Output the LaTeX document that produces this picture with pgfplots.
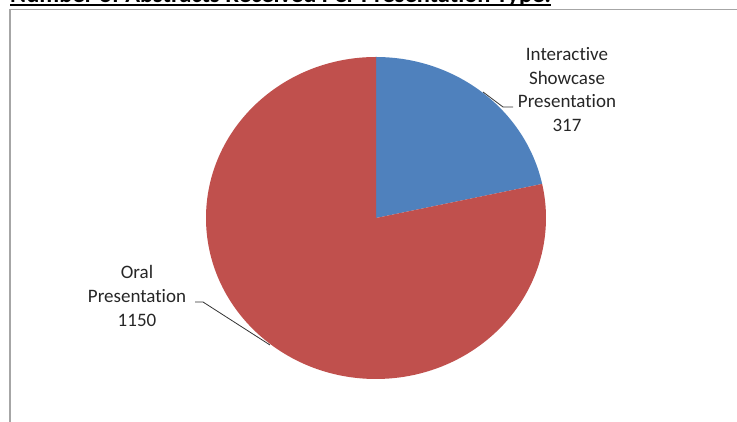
\documentclass[border=0pt]{standalone}
\usepackage{pgfplots}
\pgfplotsset{compat=1.18}
\usepackage{pgfplotstable}
\usepackage{graphicx}
\usepackage{fontspec}
\setmainfont{Carlito}[Ligatures={NoCommon}]

\definecolor{sliceblue}{HTML}{4F81BD}
\definecolor{slicered}{HTML}{C0504D}
\definecolor{framegray}{HTML}{A6A6A6}

% abstracts received per presentation type
\pgfplotstableread{
type count
Interactive 317
Oral 1150
}\abstracts

\begin{document}
\begin{tikzpicture}[x=1pt,y=1pt]
  \useasboundingbox (0,0) rectangle (737,422);
  \clip (0,0) rectangle (737,422);
  \pgfplotstablegetelem{0}{count}\of\abstracts \let\nInt\pgfplotsretval
  \pgfplotstablegetelem{1}{count}\of\abstracts \let\nOral\pgfplotsretval
  \pgfmathsetmacro{\share}{\nInt/(\nInt+\nOral)}
  \pgfmathsetmacro{\splitang}{90-360*\share}
  \pgfmathsetmacro{\endang}{\splitang+360}
  \begin{axis}[
    at={(0,0)}, anchor=south west,
    scale only axis, width=737pt, height=422pt,
    xmin=0, xmax=737, ymin=0, ymax=422,
    hide axis, clip=false,
    ]
    % slices
    \fill[sliceblue] (axis cs:376,204) -- (axis cs:376,365)
      arc[start angle=90, end angle=\splitang, x radius=170pt, y radius=161pt] -- cycle;
    \fill[slicered] (axis cs:376,204) -- (axis cs:376,365)
      arc[start angle=90, end angle=\endang, x radius=170pt, y radius=161pt] -- cycle;

    % leader lines
    \draw[black!80, line width=0.8pt] (axis cs:483,330) -- (axis cs:503,315) -- (axis cs:513,315);
    \draw[black!80, line width=0.8pt] (axis cs:195,120) -- (axis cs:203,120) -- (axis cs:270,77);

    % data labels
    \node[align=center, text=black!85, font=\fontsize{19}{23.7}\selectfont]
      at (axis cs:567,332.5) {Interactive\\Showcase\\Presentation\\317};
    \node[align=center, text=black!85, font=\fontsize{19}{23.7}\selectfont]
      at (axis cs:137,126) {Oral\\Presentation\\1150};

    % title, mostly cut off at the top
    \node[anchor=base west, inner sep=0pt]
      at (axis cs:10,419) {\resizebox{541pt}{!}{\bfseries Number of Abstracts Received Per Presentation Type:}};
    \draw[line width=2pt] (axis cs:10,416.5) -- (axis cs:551,416.5);

    % chart area frame
    \draw[framegray, line width=1.5pt] (axis cs:10,0) -- (axis cs:10,412.5) -- (axis cs:737,412.5);
  \end{axis}
\end{tikzpicture}
\end{document}
